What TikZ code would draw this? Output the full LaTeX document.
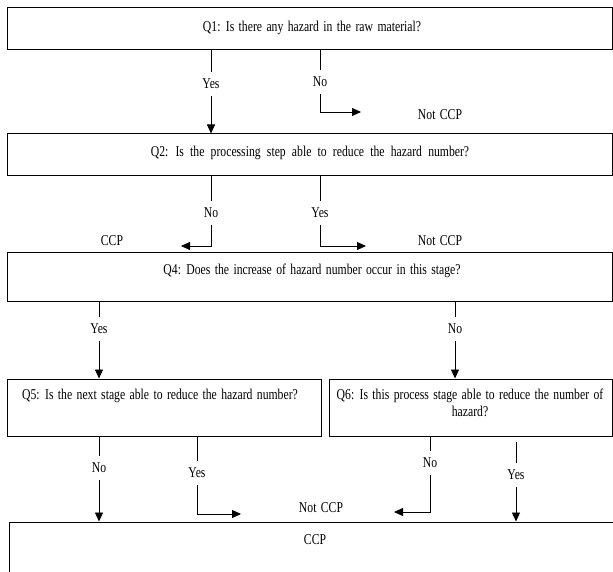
\documentclass[tikz,border=0pt]{standalone}
\usepackage{fontspec}
\setmainfont[FakeStretch=0.78]{Liberation Serif}
\usetikzlibrary{arrows.meta}
\newcommand\chartfont{\fontsize{15}{17}\selectfont\spaceskip=4.4pt plus 1pt\relax}

\begin{document}
\begin{tikzpicture}[x=1pt, y=-1pt,
        box/.style={draw, line width=1pt, rectangle, inner sep=0pt},
        ans/.style={inner xsep=1pt, inner ysep=7pt},
        link/.style={line width=0.8pt},
        arr/.style={line width=0.8pt, -{Triangle[length=9pt,width=8pt]}},
        font=\chartfont]
        \useasboundingbox (0,0) rectangle (613,572);

        % question boxes
        \node[box, minimum width=605pt, minimum height=42pt] (q1) at (309.5, 29) {};
        \node[box, minimum width=605pt, minimum height=42pt] (q2) at (309.5, 155) {};
        \node[box, minimum width=605pt, minimum height=49pt] (q4) at (309.5, 276.5) {};
        \node[box, minimum width=314pt, minimum height=57pt] (q5) at (164, 407.5) {};
        \node[box, minimum width=283pt, minimum height=57pt] (q6) at (470.5, 407.5) {};
        \node[box, minimum width=611pt, minimum height=68pt] (ccp) at (314.5, 556) {};

        \node (q1t) at (312, 28) {Q1: Is there any hazard in the raw material?};
        \node (q2t) at (310, 153) {\spaceskip=6.2pt plus 1pt Q2: Is the processing step able to reduce the hazard number?};
        \node (q4t) at (312, 271) {Q4: Does the increase of hazard number occur in this stage?};
        \node (q5t) at (160, 396) {Q5: Is the next stage able to reduce the hazard number?};
        \node[align=center] (q6t) at (470, 403) {Q6: Is this process stage able to reduce the number of\\hazard?};
        \node (ccpt) at (315, 540) {CCP};

        % answers
        \node[ans] (y1) at (211, 84) {Yes};
        \node[ans] (n1) at (320, 82) {No};
        \node[ans] (n2) at (211, 213) {No};
        \node[ans] (y2) at (320, 213) {Yes};
        \node[ans] (y4) at (99, 329) {Yes};
        \node[ans] (n4) at (455, 329) {No};
        \node[ans] (n5) at (99, 468) {No};
        \node[ans] (y5) at (197, 473) {Yes};
        \node[ans] (n6) at (430, 463) {No};
        \node[ans] (y6) at (516, 475) {Yes};

        % outcomes
        \node (r1) at (440, 115) {Not CCP};
        \node (r2) at (112, 241) {CCP};
        \node (r3) at (440, 241) {Not CCP};
        \node (r4) at (321, 508) {Not CCP};

        \coordinate (c1) at (361, 112);
        \coordinate (c2) at (181, 246);
        \coordinate (c3) at (366, 246);
        \coordinate (c5) at (241, 514);
        \coordinate (c6) at (394, 512);
        \coordinate (s6) at (516, 442);

        \draw[link] (q1.south -| y1) -- (y1);
        \draw[arr] (y1) -- (q2.north -| y1);
        \draw[link] (q1.south -| n1) -- (n1);
        \draw[arr] (n1) |- (c1);

        \draw[link] (q2.south -| n2) -- (n2);
        \draw[arr] (n2) |- (c2);
        \draw[link] (q2.south -| y2) -- (y2);
        \draw[arr] (y2) |- (c3);

        \draw[link] (q4.south -| y4) -- (y4);
        \draw[arr] (y4) -- (q5.north -| y4);
        \draw[link] (q4.south -| n4) -- (n4);
        \draw[arr] (n4) -- (q6.north -| n4);

        \draw[link] (q5.south -| n5) -- (n5);
        \draw[arr] (n5) -- (ccp.north -| n5);
        \draw[link] (q5.south -| y5) -- (y5);
        \draw[arr] (y5) |- (c5);

        \draw[link] (q6.south -| n6) -- (n6);
        \draw[arr] (n6) |- (c6);
        \draw[link] (s6) -- (y6);
        \draw[arr] (y6) -- (ccp.north -| y6);
    \end{tikzpicture}
\end{document}
